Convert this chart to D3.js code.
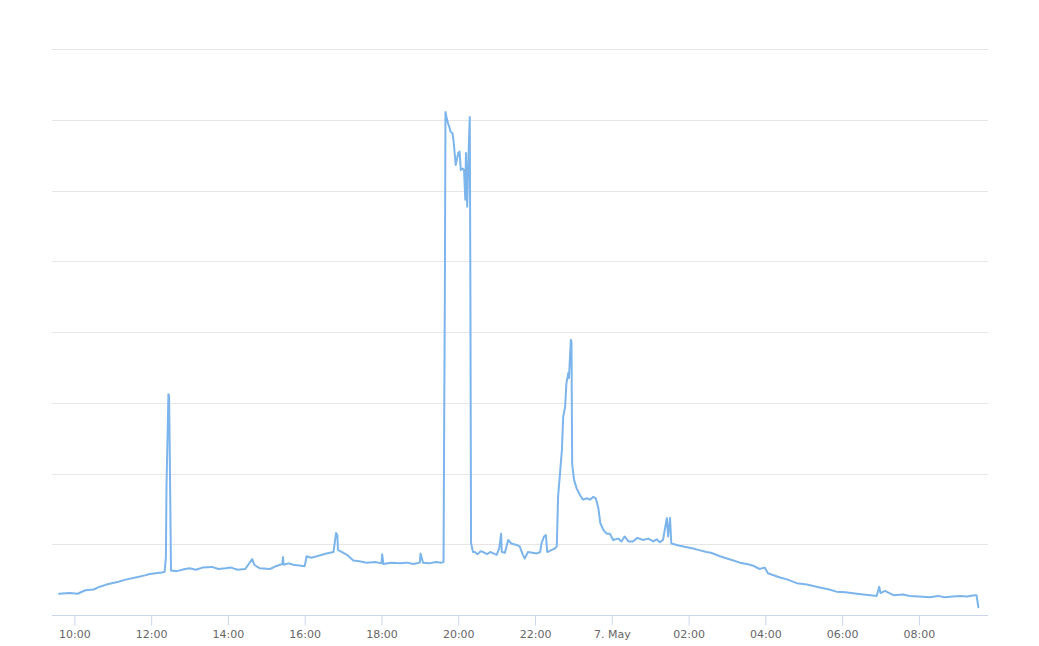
<!DOCTYPE html>
<html>
<head>
<meta charset="utf-8">
<script src="https://cdn.jsdelivr.net/npm/d3@7"></script>
<style>
  body { margin: 0; background: #fff; }
  .axis text { font-family: 'DejaVu Sans', 'Lucida Grande', Arial, sans-serif; font-size: 11px; fill: #666; }
</style>
</head>
<body>
<div id="chart"></div>
<script>
// readings, one per time stamp (arbitrary units, gridlines every 10)
let times = [
  '05-06 09:36', '05-06 09:53', '05-06 10:05', '05-06 10:17', '05-06 10:30', '05-06 10:40',
  '05-06 10:50', '05-06 11:09', '05-06 11:20', '05-06 11:41', '05-06 11:50', '05-06 11:58',
  '05-06 12:17', '05-06 12:21', '05-06 12:23', '05-06 12:24', '05-06 12:27', '05-06 12:28',
  '05-06 12:29', '05-06 12:31', '05-06 12:40', '05-06 12:53', '05-06 13:00', '05-06 13:10',
  '05-06 13:20', '05-06 13:35', '05-06 13:45', '05-06 13:56', '05-06 14:05', '05-06 14:15',
  '05-06 14:27', '05-06 14:38', '05-06 14:41', '05-06 14:50', '05-06 15:06', '05-06 15:15',
  '05-06 15:25', '05-06 15:26', '05-06 15:27', '05-06 15:35', '05-06 15:42', '05-06 16:00',
  '05-06 16:03', '05-06 16:10', '05-06 16:19', '05-06 16:34', '05-06 16:45', '05-06 16:49',
  '05-06 16:51', '05-06 16:52', '05-06 17:06', '05-06 17:16', '05-06 17:25', '05-06 17:37',
  '05-06 17:50', '05-06 18:00', '05-06 18:01', '05-06 18:03', '05-06 18:15', '05-06 18:29',
  '05-06 18:40', '05-06 18:50', '05-06 19:00', '05-06 19:01', '05-06 19:05', '05-06 19:15',
  '05-06 19:25', '05-06 19:34', '05-06 19:37', '05-06 19:38', '05-06 19:39', '05-06 19:40',
  '05-06 19:42', '05-06 19:44', '05-06 19:46', '05-06 19:48', '05-06 19:51', '05-06 19:53',
  '05-06 19:56', '05-06 20:00', '05-06 20:02', '05-06 20:04', '05-06 20:07', '05-06 20:09',
  '05-06 20:11', '05-06 20:12', '05-06 20:14', '05-06 20:16', '05-06 20:18', '05-06 20:19',
  '05-06 20:20', '05-06 20:23', '05-06 20:26', '05-06 20:30', '05-06 20:35', '05-06 20:39',
  '05-06 20:45', '05-06 20:50', '05-06 20:55', '05-06 21:00', '05-06 21:04', '05-06 21:07',
  '05-06 21:08', '05-06 21:13', '05-06 21:16', '05-06 21:18', '05-06 21:23', '05-06 21:31',
  '05-06 21:36', '05-06 21:41', '05-06 21:44', '05-06 21:49', '05-06 22:03', '05-06 22:08',
  '05-06 22:10', '05-06 22:14', '05-06 22:17', '05-06 22:19', '05-06 22:26', '05-06 22:31',
  '05-06 22:34', '05-06 22:36', '05-06 22:42', '05-06 22:44', '05-06 22:47', '05-06 22:49',
  '05-06 22:52', '05-06 22:53', '05-06 22:56', '05-06 22:57', '05-06 22:58', '05-06 23:01',
  '05-06 23:05', '05-06 23:10', '05-06 23:15', '05-06 23:21', '05-06 23:26', '05-06 23:31',
  '05-06 23:35', '05-06 23:39', '05-06 23:42', '05-06 23:47', '05-06 23:52', '05-06 23:57',
  '05-07 00:02', '05-07 00:10', '05-07 00:15', '05-07 00:20', '05-07 00:26', '05-07 00:33',
  '05-07 00:40', '05-07 00:49', '05-07 00:57', '05-07 01:05', '05-07 01:10', '05-07 01:15',
  '05-07 01:20', '05-07 01:26', '05-07 01:28', '05-07 01:31', '05-07 01:33', '05-07 01:46',
  '05-07 02:07', '05-07 02:15', '05-07 02:28', '05-07 02:35', '05-07 02:49', '05-07 03:10',
  '05-07 03:20', '05-07 03:31', '05-07 03:40', '05-07 03:51', '05-07 03:59', '05-07 04:04',
  '05-07 04:23', '05-07 04:35', '05-07 04:49', '05-07 05:05', '05-07 05:25', '05-07 05:40',
  '05-07 05:51', '05-07 06:05', '05-07 06:23', '05-07 06:54', '05-07 06:58', '05-07 07:00',
  '05-07 07:07', '05-07 07:20', '05-07 07:35', '05-07 07:46', '05-07 08:00', '05-07 08:17',
  '05-07 08:30', '05-07 08:40', '05-07 08:53', '05-07 09:05', '05-07 09:15', '05-07 09:27',
  '05-07 09:30', '05-07 09:33'
]

let values = [
  3.0, 3.1, 3.0, 3.5, 3.6, 4.0,
  4.3, 4.7, 5.0, 5.4, 5.6, 5.8,
  6.0, 6.1, 8.1, 18.4, 31.2, 31.0,
  23.3, 6.3, 6.2, 6.5, 6.6, 6.4,
  6.7, 6.8, 6.5, 6.6, 6.7, 6.4,
  6.5, 7.9, 7.1, 6.6, 6.5, 6.9,
  7.2, 8.2, 7.1, 7.3, 7.1, 6.9,
  8.3, 8.1, 8.3, 8.7, 8.9, 11.6,
  11.3, 9.2, 8.5, 7.7, 7.6, 7.4,
  7.5, 7.3, 8.6, 7.2, 7.4, 7.3,
  7.4, 7.2, 7.4, 8.7, 7.4, 7.3,
  7.5, 7.4, 7.5, 27.6, 44.5, 71.1,
  70.2, 69.5, 69.0, 68.3, 68.1, 66.7,
  63.6, 65.3, 65.5, 62.9, 63.1, 62.9,
  58.7, 65.3, 57.7, 65.0, 70.4, 44.5,
  10.2, 8.9, 8.9, 8.6, 9.0, 8.9,
  8.6, 8.9, 8.7, 8.5, 9.4, 11.5,
  8.9, 8.8, 9.9, 10.6, 10.1, 9.9,
  9.7, 8.5, 8.0, 8.9, 8.7, 8.9,
  10.1, 11.1, 11.3, 8.9, 9.2, 9.4,
  9.7, 16.7, 23.3, 28.0, 29.4, 32.7,
  34.2, 33.5, 38.9, 38.6, 21.4, 19.1,
  17.9, 17.0, 16.3, 16.5, 16.3, 16.7,
  16.5, 15.1, 13.0, 12.0, 11.5, 11.5,
  10.6, 10.8, 10.4, 11.1, 10.4, 10.4,
  10.9, 10.6, 10.8, 10.4, 10.7, 10.3,
  10.6, 13.7, 11.1, 13.7, 10.1, 9.8,
  9.4, 9.2, 8.9, 8.8, 8.3, 7.7,
  7.4, 7.2, 7.0, 6.5, 6.7, 5.9,
  5.3, 5.0, 4.5, 4.3, 3.9, 3.6,
  3.3, 3.2, 3.0, 2.7, 4.0, 3.1,
  3.4, 2.8, 2.9, 2.7, 2.6, 2.5,
  2.7, 2.5, 2.6, 2.7, 2.6, 2.8,
  2.8, 1.1
]

let xDomain = ['05-06 09:25', '05-07 09:48']
let yTicks = [0, 10, 20, 30, 40, 50, 60, 70, 80]

let margin = { top: 49, left: 52, right: 51, bottom: 31 }
let width = 1039 - margin.left - margin.right
let height = 646 - margin.top - margin.bottom

let parseTime = d3.timeParse('%m-%d %H:%M')

let datapoints = times.map((t, i) => ({ datetime: parseTime(t), value: values[i] }))

let svg = d3
  .select('#chart')
  .append('svg')
  .attr('width', 1039)
  .attr('height', 646)
  .append('g')
  .attr('transform', `translate(${margin.left}, ${margin.top})`)

let xPositionScale = d3.scaleTime().domain(xDomain.map(parseTime)).range([0, width])
let yPositionScale = d3.scaleLinear().domain([0, 80]).range([height, 0])

// horizontal gridlines
svg
  .selectAll('.grid-line')
  .data(yTicks.slice(1))
  .enter()
  .append('line')
  .attr('class', 'grid-line')
  .attr('x1', 0)
  .attr('x2', width)
  .attr('y1', d => Math.round(yPositionScale(d)) + 0.5)
  .attr('y2', d => Math.round(yPositionScale(d)) + 0.5)
  .attr('stroke', '#e6e6e6')
  .attr('stroke-width', 1)

let xAxis = d3
  .axisBottom(xPositionScale)
  .ticks(d3.timeHour.every(2))
  .tickSize(10)
  .tickPadding(5)
  .tickFormat(d => (d.getHours() === 0 ? d3.timeFormat('%-d. %b')(d) : d3.timeFormat('%H:%M')(d)))

let xg = svg
  .append('g')
  .attr('class', 'axis x-axis')
  .attr('transform', `translate(0, ${height + 0.5})`)
  .call(xAxis)

xg.select('.domain').attr('stroke', '#ccd6eb').attr('d', `M0,0H${width}`)
xg.selectAll('.tick line').attr('stroke', '#ccd6eb')
xg.selectAll('.tick text').attr('fill', '#666')

let line = d3
  .line()
  .x(d => xPositionScale(d.datetime))
  .y(d => yPositionScale(d.value))

svg
  .append('path')
  .datum(datapoints)
  .attr('class', 'value-line')
  .attr('d', line)
  .attr('fill', 'none')
  .attr('stroke', '#7cb5ec')
  .attr('stroke-width', 2)
  .attr('stroke-linejoin', 'round')
  .attr('stroke-linecap', 'round')
</script>
</body>
</html>
